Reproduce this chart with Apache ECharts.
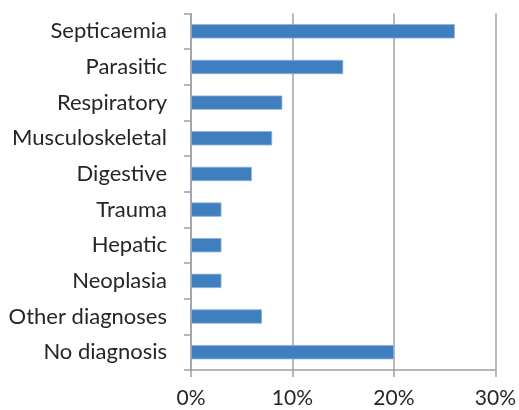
<!DOCTYPE html>
<html>
<head>
<meta charset="utf-8">
<script src="https://cdn.jsdelivr.net/npm/echarts@6/dist/echarts.min.js"></script>
<style>
  html, body { margin: 0; padding: 0; background: #fff; }
  #chart { width: 519px; height: 410px; }
</style>
</head>
<body>
<div id="chart"></div>
<script>
// Diagnosis categories, listed top to bottom
const categories = [
  'Septicaemia', 'Parasitic', 'Respiratory', 'Musculoskeletal', 'Digestive',
  'Trauma', 'Hepatic', 'Neoplasia', 'Other diagnoses', 'No diagnosis'
];
// Share of cases per diagnosis (%)
const shares = [26, 15, 9, 8, 6, 3, 3, 3, 7, 20];
// Value axis ticks (%)
const xTicks = [0, 10, 20, 30];

const chart = echarts.init(document.getElementById('chart'));
const axisGrey = '#a0a0a3';
const textColor = '#262626';
const font = 'Lato';

chart.setOption({
  animation: false,
  grid: { left: 191, right: 22, top: 13.5, bottom: 40, containLabel: false },
  xAxis: {
    type: 'value',
    min: xTicks[0],
    max: xTicks[xTicks.length - 1],
    interval: 10,
    axisLine: { show: true, lineStyle: { color: axisGrey, width: 1.5 } },
    axisTick: { show: true, length: 7, lineStyle: { color: axisGrey, width: 1.5 } },
    splitLine: { show: true, lineStyle: { color: axisGrey, width: 1.5 } },
    axisLabel: {
      formatter: v => v + '%',
      color: textColor, fontFamily: font, fontSize: 21, margin: 18
    }
  },
  yAxis: {
    type: 'category',
    data: categories,
    inverse: true,
    axisLine: { show: true, lineStyle: { color: axisGrey, width: 1.5 } },
    axisTick: { show: true, length: 7, lineStyle: { color: axisGrey, width: 1.5 } },
    axisLabel: { color: textColor, fontFamily: font, fontSize: 22, margin: 24 }
  },
  series: [{
    type: 'bar',
    data: shares,
    barCategoryGap: '60%',
    itemStyle: { color: '#3f7ebf', borderColor: '#8db1dc', borderWidth: 0.8 }
  }]
});
</script>
</body>
</html>
